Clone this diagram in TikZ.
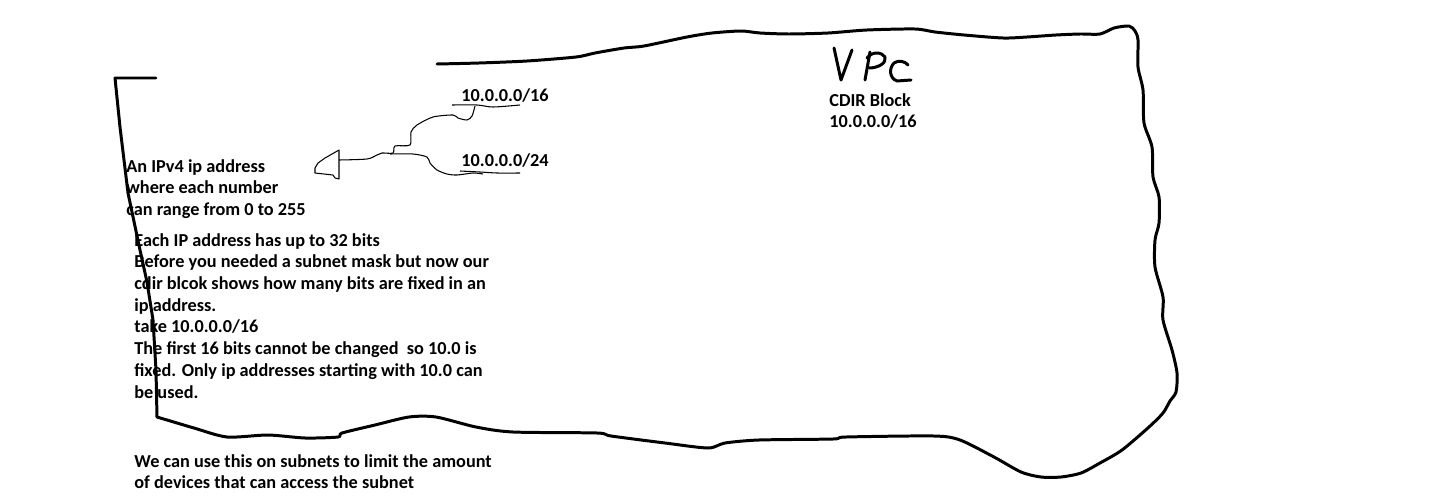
\documentclass[tikz,border=0pt]{standalone}
\usepackage{fontspec}
\setmainfont{Carlito}
\newcommand\Squiggle[2][]{%
    \draw[#1] plot[smooth,tension=0.45] coordinates {#2};
}

\begin{document}
\begin{tikzpicture}[x=0.02cm,y=-0.02cm,
    hand/.style={line width=1.7pt,line join=round,line cap=round},
    pen/.style={line width=0.6pt,line join=round},
    note/.style={font=\bfseries\fontsize{10.4}{12.35}\selectfont,align=left,
        anchor=north west,inner sep=0pt}]
    \useasboundingbox (0,0) rectangle (1435,497);
    % VPC outline
    \Squiggle[hand]{(437,64) (479,63) (527,61) (576,57) (595,53) (624,48) (644,46)
        (687,37) (712,33) (741,31) (760,33) (789,34) (828,33) (867,30) (915,29)
        (935,32) (964,35) (1003,38) (1027,37) (1056,35) (1080,34) (1100,34)
        (1114,28) (1129,26) (1135,31) (1138,40) (1138,67) (1143,90) (1144,123)
        (1152,147) (1153,177) (1159,197) (1159,223) (1155,240) (1155,267)
        (1163,297) (1163,320) (1172,350) (1177,373) (1176,392) (1170,401)
        (1163,413) (1149,427) (1122,450) (1100,463) (1081,473) (1061,477)
        (1041,477) (1021,472) (994,457) (960,440) (934,436) (846,437) (833,439)
        (759,440) (725,443) (708,448) (665,443) (611,436) (597,433) (513,432)
        (476,427) (436,417) (409,417) (375,425) (342,433) (338,437) (305,438)
        (268,435) (227,437) (194,428) (167,420) (157,417)}
    \draw[hand] (157,417) -- (156,370) -- (153,320) -- (147,282) -- (140,250)
        -- (128,193) -- (120,127) -- (115,78) -- (156,78);
    % VPC lettering
    \begin{scope}[line width=1.7pt,line cap=round,line join=round]
        \draw (834,48) -- (841,80) -- (852,50);
        \draw (870,52) -- (865,80);
        \draw (867,58) .. controls (872,51) and (882,52) .. (885,57)
            .. controls (887,63) and (878,68) .. (869,68);
        \draw (908,65) .. controls (905,61) and (898,60) .. (894,63)
            .. controls (889,68) and (889,78) .. (897,81) -- (911,80);
    \end{scope}
    % labels
    \node[note] (sixteen) at (461,88) {10.0.0.0/16};
    \node[note] (twentyfour) at (461,153) {10.0.0.0/24};
    \node[note] (cidr) at (829,93) {CDIR Block\\10.0.0.0/16};
    \node[note] (ipv4) at (126,159) {An IPv4 ip address\\where each number\\can range from 0 to 255};
    \node[note] (bits) at (134,233) {Each IP address has up to 32 bits\\
        Before you needed a subnet mask but now our\\
        cdir blcok shows how many bits are fixed in an\\
        ip address.\\
        take 10.0.0.0/16\\
        The first 16 bits cannot be changed~ so 10.0 is\\
        fixed. Only ip addresses starting with 10.0 can\\
        be used.};
    \node[note] (subnets) at (134,454) {We can use this on subnets to limit the amount\\
        of devices that can access the subnet};
    % pointer from the two blocks
    \coordinate (tip) at (339,160);
    \Squiggle[pen]{(452,105) (477,105) (493,107) (520,105)}
    \Squiggle[pen]{(475,106) (472,116) (467,120) (458,118) (453,115) (433,117)
        (417,125) (411,132) (410,145) (395,146) (393,153) (382,153) (377,155)
        (367,159) (tip)}
    \Squiggle[pen]{(390,154) (413,154) (427,157) (430,163) (437,170) (447,174)
        (457,175) (473,173) (483,174)}
    \Squiggle[pen]{(460,171) (480,172) (497,173) (520,173)}
    \draw[pen] (339,150) -- (339,179) -- (335,178) -- (333,175) -- (315,173)
        -- (315,168) -- (318,163) -- (325,158) -- cycle;
\end{tikzpicture}
\end{document}
